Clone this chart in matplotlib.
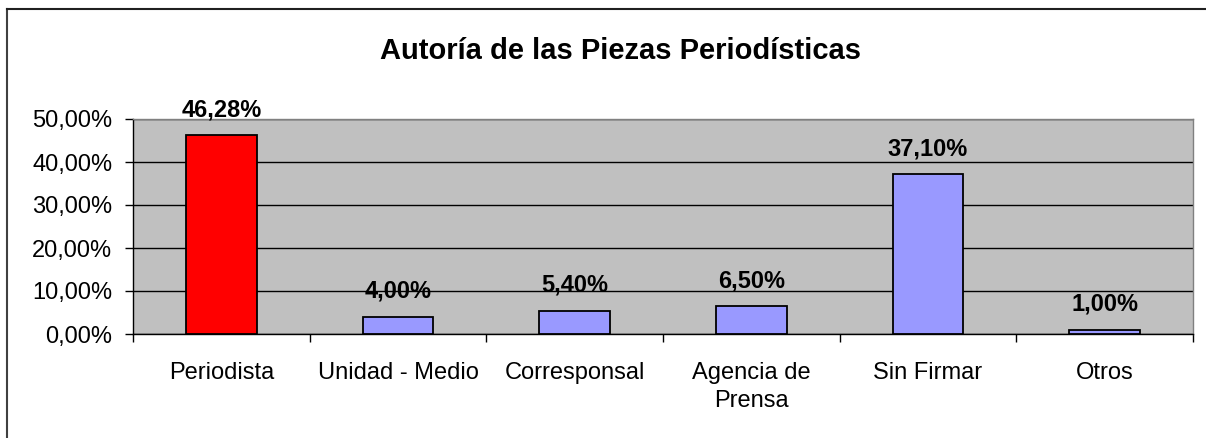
import matplotlib.pyplot as plt
from matplotlib.lines import Line2D

plt.rcParams['font.family'] = ['Liberation Sans', 'DejaVu Sans']

categorias = ['Periodista', 'Unidad - Medio', 'Corresponsal', 'Agencia de\nPrensa', 'Sin Firmar', 'Otros']
valores = [46.28, 4.00, 5.40, 6.50, 37.10, 1.00]
colores = ['#FF0000', '#9999FF', '#9999FF', '#9999FF', '#9999FF', '#9999FF']
yticks = [0, 10, 20, 30, 40, 50]

W, H = 1206, 438
fig = plt.figure(figsize=(W / 100, H / 100), dpi=100)
ax = fig.add_axes([133 / W, 1 - 334 / H, (1193 - 133) / W, (334 - 119) / H])
ax.set_facecolor('#C0C0C0')

x = range(len(categorias))
ax.bar(x, valores, width=0.4, color=colores, edgecolor='black', linewidth=1.3, zorder=3)

for xi, v in zip(x, valores):
    ax.annotate(('%.2f%%' % v).replace('.', ','), (xi, v), xytext=(0, 10),
                textcoords='offset points', ha='center', va='bottom',
                fontsize=17, fontweight='bold', zorder=4)

ax.set_xlim(-0.5, len(categorias) - 0.5)
ax.set_ylim(0, 50)
ax.set_yticks(yticks)
ax.set_yticklabels([('%.2f%%' % t).replace('.', ',') for t in yticks], fontsize=17)
ax.yaxis.grid(True, color='black', linewidth=1, zorder=1)
ax.set_axisbelow(True)
ax.tick_params(axis='y', length=6, width=1, pad=9)

# category labels centred, ticks at boundaries
ax.set_xticks(list(x))
ax.set_xticklabels(categorias, fontsize=17, linespacing=1.35)
ax.tick_params(axis='x', which='major', length=0, pad=20)
ax.set_xticks([i - 0.5 for i in range(len(categorias) + 1)], minor=True)
ax.tick_params(axis='x', which='minor', length=6, width=1)

for s in ['left', 'bottom']:
    ax.spines[s].set_color('black')
    ax.spines[s].set_linewidth(1)
for s in ['top', 'right']:
    ax.spines[s].set_color('#808080')
    ax.spines[s].set_linewidth(1)

fig.text(621 / W, 1 - 51 / H, 'Autoría de las Piezas Periodísticas',
         ha='center', va='center', fontsize=21, fontweight='bold')

# chart frame (left and top edges)
fig.add_artist(Line2D([7 / W, 7 / W], [0, 1 - 9 / H], color='#404040', linewidth=1.5))
fig.add_artist(Line2D([7 / W, 1], [1 - 9 / H, 1 - 9 / H], color='#202020', linewidth=1.5))

fig.savefig('out.png', dpi=100)
